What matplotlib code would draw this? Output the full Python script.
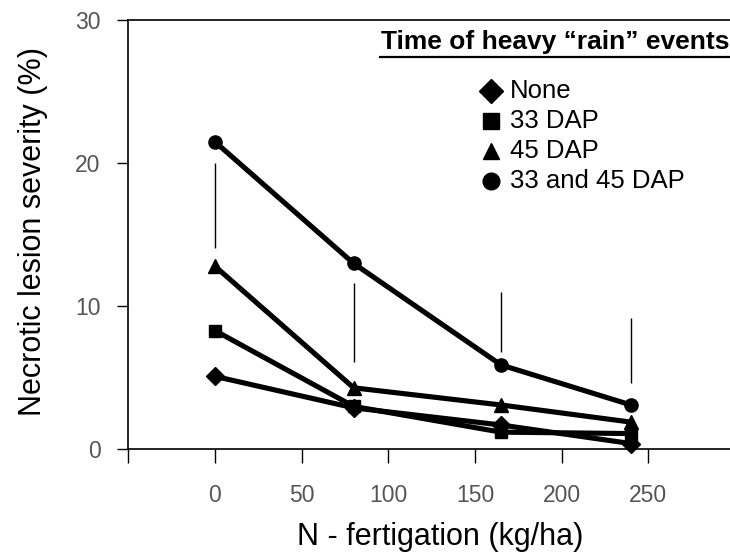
import matplotlib
matplotlib.use('Agg')
import matplotlib.pyplot as plt
from matplotlib.lines import Line2D

plt.rcParams['font.family'] = ['Liberation Sans', 'DejaVu Sans']

# N - fertigation (kg/ha)
n_rate = [0, 80, 165, 240]

# Necrotic lesion severity (%) per rain-event timing
sev_none = [5.1, 2.9, 1.7, 0.4]
sev_33 = [8.3, 3.0, 1.2, 1.1]
sev_45 = [12.8, 4.3, 3.1, 1.9]
sev_33_45 = [21.5, 13.0, 5.9, 3.1]

series_labels = ["None", "33 DAP", "45 DAP", "33 and 45 DAP"]
series_markers = ["D", "s", "^", "o"]

# LSD bars (bottom, top)
lsd_low = [14.1, 6.1, 6.8, 4.65]
lsd_high = [20.0, 11.6, 11.0, 9.2]

x_ticks = [-50, 0, 50, 100, 150, 200, 250]
x_ticklabels = ["", "0", "50", "100", "150", "200", "250"]
y_ticks = [0, 10, 20, 30]

W, H = 730, 558
fig = plt.figure(figsize=(W / 100, H / 100), dpi=100)
ax = fig.add_axes([128.3 / W, (H - 449.3) / H, (735 - 128.3) / W, (449.3 - 20.3) / H])

all_series = [sev_none, sev_33, sev_45, sev_33_45]
msizes = [9, 9, 10, 9.5]
for vals, mk, lab, ms in zip(all_series, series_markers, series_labels, msizes):
    ax.plot(n_rate, vals, color='black', lw=3.7, marker=mk, ms=ms, label=lab,
            solid_capstyle='round', clip_on=False)

ax.vlines(n_rate, lsd_low, lsd_high, color='black', lw=1.0)

ax.set_xlim(-50, 300)
ax.set_ylim(0, 30)
ax.set_xticks(x_ticks)
ax.set_xticklabels(x_ticklabels)
ax.set_yticks(y_ticks)
ax.tick_params(axis='both', direction='out', width=1.0, colors='black',
               labelcolor='#555555', labelsize=16.5)
ax.tick_params(axis='x', length=10, pad=15)
ax.tick_params(axis='y', length=8, pad=12)
ax.spines['right'].set_visible(False)
for s in ['left', 'bottom', 'top']:
    ax.spines[s].set_linewidth(1.2)

fig.text(440 / W, 1 - 537 / H, "N - fertigation (kg/ha)", fontsize=22,
         ha='center', va='center')
fig.text(33 / W, 1 - 232 / H, "Necrotic lesion severity (%)", fontsize=22,
         ha='center', va='center', rotation=90)

# legend with underlined title
fig.text(381 / W, 1 - 42 / H, "Time of heavy \u201crain\u201d events", fontsize=19,
         fontweight='bold', ha='left', va='center')
fig.add_artist(Line2D([380 / W, 729 / W], [1 - 57 / H, 1 - 57 / H],
                      color='black', lw=1.6))
for i, (mk, lab) in enumerate(zip(series_markers, series_labels)):
    yy = 1 - (91 + 30 * i) / H
    fig.add_artist(Line2D([491 / W], [yy], marker=mk, color='black', ms=12, ls='none'))
    fig.text(510 / W, yy, lab, fontsize=18.5, ha='left', va='center')

fig.savefig("out.png", dpi=100)
